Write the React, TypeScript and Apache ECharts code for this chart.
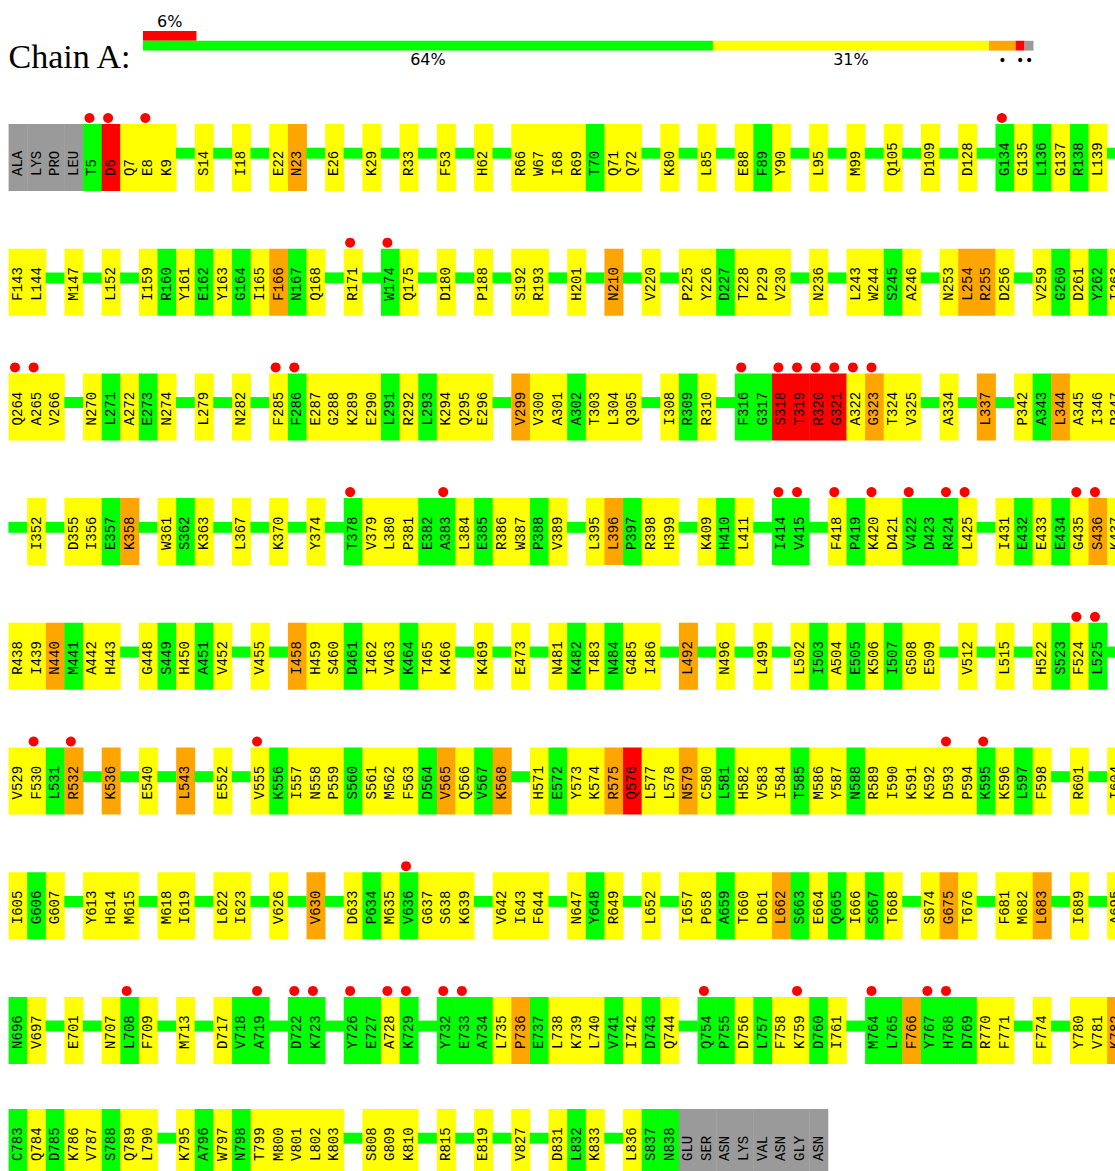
import React, { useEffect, useRef } from "react";
import * as echarts from "echarts";

// ---- Summary bar (percent of residues per quality class) ----
const qualityClasses = ["good", "one", "two", "three", "missing"];
const qualityValues = [64, 31, 3, 1, 1];
const qualityLabels = ["64%", "31%", "•", "•", "•"];
const outlierValue = 6;
const outlierLabel = "6%";
const chainTitle = "Chain A:";

// ---- Residue rows ("-" = run of residues without outliers) ----
const row1 =
  "ALA:x LYS:x PRO:x LEU:x T5:g D6:r Q7:y E8:y K9:y - S14:y - I18:y - E22:y N23:o - E26:y - K29:y - R33:y - F53:y - H62:y - R66:y W67:y I68:y R69:y T70:g Q71:y Q72:y - K80:y - L85:y - E88:y F89:g Y90:y - L95:y - M99:y - Q105:y - D109:y - D128:y - G134:g G135:y L136:g G137:y R138:g L139:y -";
const row2 =
  "F143:y L144:y - M147:y - L152:y - I159:y R160:g Y161:y E162:g Y163:y G164:g I165:y F166:o N167:g Q168:y - R171:y - W174:g Q175:y - D180:y - P188:y - S192:y R193:y - H201:y - N210:o - V220:y - P225:y Y226:y D227:g T228:y P229:y V230:y - N236:y - L243:y W244:y S245:g A246:y - N253:y L254:o R255:o D256:y - V259:y G260:g D261:y Y262:g I263:y";
const row3 =
  "Q264:y A265:y V266:y - N270:y L271:g A272:y E273:g N274:y - L279:y - N282:y - F285:y F286:g E287:y G288:y K289:y E290:y L291:g R292:y L293:g K294:y Q295:y E296:y - V299:o V300:y A301:y A302:g T303:y L304:y Q305:y - I308:y R309:g R310:y - F316:g G317:g S318:r T319:r R320:r G321:r A322:y G323:o T324:y V325:y - A334:y - L337:o - P342:y A343:g L344:o A345:y I346:y R347:y";
const row4 =
  "- I352:y - D355:y I356:y E357:g K358:o - W361:y S362:g K363:y - L367:y - K370:y - Y374:y - T378:g V379:y L380:y P381:y E382:g A383:g L384:y E385:g R386:y W387:y P388:g V389:y - L395:y L396:o P397:g R398:y H399:y - K409:y H410:g L411:y - I414:g V415:g - F418:y P419:g K420:y D421:y V422:g D423:g R424:g L425:y - I431:y E432:g E433:y E434:g G435:y S436:o K437:y";
const row5 =
  "R438:y I439:y N440:o M441:g A442:y H443:y - G448:y S449:g H450:y A451:g V452:y - V455:y - I458:o H459:y S460:y D461:g I462:y V463:y K464:g T465:y K466:y - K469:y - E473:y - N481:y K482:g T483:y N484:g G485:y I486:y - L492:o - N496:y - L499:y - L502:y I503:g A504:y E505:g K506:y I507:g G508:y E509:y - V512:y - L515:y - H522:y S523:g F524:y L525:g -";
const row6 =
  "V529:y F530:y L531:g R532:o - K536:o - E540:y - L543:o - E552:y - V555:y K556:g I557:y N558:y P559:y S560:g S561:y M562:y F563:y D564:g V565:o Q566:y V567:g K568:o - H571:y E572:g Y573:y K574:y R575:o Q576:r L577:y L578:y N579:o C580:y L581:g H582:y V583:y I584:y T585:g M586:y Y587:y N588:g R589:y I590:y K591:y K592:y D593:y P594:y K595:g K596:y L597:g F598:y - R601:y - I604:y";
const row7 =
  "I605:y G606:g G607:y - Y613:y H614:y M615:y - M618:y I619:y - L622:y I623:y - V626:y - V630:o - D633:y P634:g M635:y V636:g G637:y S638:y K639:y - V642:y I643:y F644:y - N647:y Y648:g R649:y - L652:y - I657:y P658:y A659:g T660:y D661:y L662:o S663:g E664:y Q665:g I666:y S667:g T668:y - S674:y G675:o T676:y - F681:y M682:y L683:o - I689:y - A695:y";
const row8 =
  "N696:g V697:y - E701:y - N707:y L708:g F709:y - M713:y - D717:y V718:g A719:g - D722:g K723:g - Y726:g E727:g A728:y K729:g - Y732:g E733:g A734:g L735:y P736:o E737:g L738:y K739:y L740:y V741:g I742:y D743:g Q744:y - Q754:g P755:g D756:y L757:g F758:y K759:y D760:g I761:y - M764:g L765:g F766:o Y767:g H768:g D769:g R770:y F771:y - F774:y - Y780:y V781:y K782:o";
const row9 =
  "C783:g Q784:y D785:g K786:y V787:y S788:g Q789:y L790:y - K795:y A796:g W797:y N798:g T799:y M800:y V801:y L802:y K803:y - S808:y G809:y K810:y - R815:y - E819:y - V827:y - D831:y L832:g K833:y - L836:y S837:g N838:g GLU:x SER:x ASN:x LYS:x VAL:x ASN:x GLY:x ASN:x";

const residueRows = [row1, row2, row3, row4, row5, row6, row7, row8, row9];

// residues marked with a red outlier dot
const outlierDots = [
  "T5", "D6", "E8", "G134", "R171", "W174",
  "Q264", "A265", "F285", "F286", "F316", "S318", "T319", "R320", "G321", "A322", "G323",
  "T378", "A383", "I414", "V415", "F418", "K420", "V422", "R424", "L425", "G435", "S436",
  "F524", "L525", "F530", "R532", "V555", "D593", "K595", "V636",
  "L708", "A719", "D722", "K723", "Y726", "A728", "K729", "Y732", "E733",
  "Q754", "K759", "M764", "Y767", "H768",
];

const COLORS: Record<string, string> = {
  g: "#00ff00",
  y: "#ffff00",
  o: "#ffa500",
  r: "#ff0000",
  x: "#9a9a9a",
};
const SEGMENT_COLORS = ["#00ff00", "#ffff00", "#ffa500", "#ff0000", "#9a9a9a"];

// layout
const PAGE_W = 1115;
const PAGE_H = 1171;
const ROW_LEFT = 8.6;
const SLOT = 18.62;
const ROW_TOPS = [124, 248.7, 373.4, 498.1, 622.8, 747.5, 872.2, 996.9, 1109];
const BOX_H = 67;

type Tok = { gap: boolean; label: string; code: string; dot: boolean };

function parseRow(s: string): Tok[] {
  const dots = new Set(outlierDots);
  return s.split(" ").map((t) => {
    if (t === "-") return { gap: true, label: "", code: "", dot: false };
    const [label, code] = t.split(":");
    return { gap: false, label, code, dot: dots.has(label) };
  });
}

export default function App() {
  const ref = useRef<HTMLDivElement>(null);

  useEffect(() => {
    if (!ref.current) return;
    const chart = echarts.init(ref.current, undefined, { renderer: "svg" });
    const parsed = residueRows.map(parseRow);
    const rowW = PAGE_W - ROW_LEFT;

    const grids: any[] = [];
    const xAxes: any[] = [];
    const yAxes: any[] = [];
    const series: any[] = [];

    parsed.forEach((toks, i) => {
      grids.push({ left: ROW_LEFT, top: ROW_TOPS[i], width: rowW, height: BOX_H });
      xAxes.push({ type: "value", gridIndex: i, min: 0, max: rowW / SLOT, show: false });
      yAxes.push({ type: "value", gridIndex: i, min: 0, max: 1, inverse: true, show: false });
      series.push({
        type: "custom",
        xAxisIndex: i,
        yAxisIndex: i,
        clip: false,
        silent: true,
        data: toks.map((_, k) => [k]),
        renderItem: (params: any, api: any) => {
          const k = api.value(0);
          const tok = toks[params.dataIndex];
          const p0 = api.coord([k, 0]);
          const p1 = api.coord([k + 1, 1]);
          const w = p1[0] - p0[0];
          const h = p1[1] - p0[1];
          if (tok.gap) {
            return {
              type: "rect",
              shape: { x: p0[0] - 0.2, y: p0[1] + 23.7, width: w + 0.4, height: 11 },
              style: { fill: "#00ff00" },
            };
          }
          const children: any[] = [
            {
              type: "rect",
              shape: { x: p0[0], y: p0[1], width: w + 0.4, height: h },
              style: { fill: COLORS[tok.code] },
            },
            {
              type: "text",
              x: p0[0] + w / 2,
              y: p0[1] + 52,
              rotation: Math.PI / 2,
              style: {
                text: tok.label,
                fill: "#000000",
                fontSize: 14,
                fontFamily: '"Liberation Mono", monospace',
                align: "left",
                verticalAlign: "middle",
              },
            },
          ];
          if (tok.dot) {
            children.push({
              type: "circle",
              shape: { cx: p0[0] + 6.4, cy: p0[1] - 6, r: 5 },
              style: { fill: "#ff0000" },
            });
          }
          return { type: "group", children };
        },
      });
    });

    // summary bar grid
    const hi = parsed.length;
    grids.push({ left: 143, top: 31, width: 890.5, height: 19.6 });
    xAxes.push({ type: "value", gridIndex: hi, min: 0, max: 100, show: false });
    yAxes.push({
      type: "category",
      gridIndex: hi,
      data: ["outliers", "quality"],
      inverse: true,
      show: false,
    });
    series.push({
      type: "bar",
      name: "outliers",
      xAxisIndex: hi,
      yAxisIndex: hi,
      stack: "q",
      barCategoryGap: "0%",
      silent: true,
      data: [outlierValue, "-"],
      itemStyle: { color: "#ff0000" },
      label: {
        show: true,
        position: "top",
        distance: 2,
        formatter: outlierLabel,
        color: "#000",
        fontSize: 16,
        fontFamily: '"DejaVu Sans", sans-serif',
      },
    });
    qualityClasses.forEach((name, j) => {
      const isDot = qualityLabels[j] === "•";
      series.push({
        type: "bar",
        name,
        xAxisIndex: hi,
        yAxisIndex: hi,
        stack: "q",
        barCategoryGap: "0%",
        silent: true,
        data: ["-", qualityValues[j]],
        itemStyle: { color: SEGMENT_COLORS[j] },
        label: {
          show: true,
          position: "bottom",
          distance: isDot ? 2 : 1,
          formatter: qualityLabels[j],
          color: "#000",
          fontSize: isDot ? 14 : 16,
          fontFamily: '"DejaVu Sans", sans-serif',
        },
      });
    });

    chart.setOption({
      animation: false,
      backgroundColor: "#ffffff",
      grid: grids,
      xAxis: xAxes,
      yAxis: yAxes,
      series,
      graphic: [
        {
          type: "text",
          left: 8.6,
          top: 39,
          style: {
            text: chainTitle,
            fill: "#000",
            fontSize: 34,
            fontFamily: '"Liberation Serif", serif',
          },
        },
      ],
    });
    return () => chart.dispose();
  }, []);

  return (
    <div
      ref={ref}
      style={{ position: "absolute", left: 0, top: 0, width: PAGE_W, height: PAGE_H, overflow: "hidden" }}
    />
  );
}
